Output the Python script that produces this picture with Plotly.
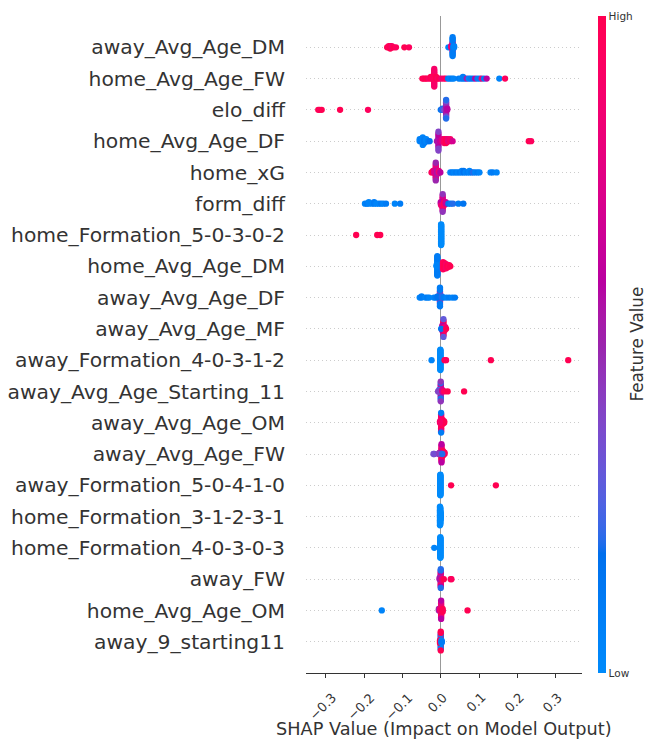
import numpy as np
import plotly.graph_objects as go

# ---------------- data ----------------
# Feature names, top to bottom
FEATURE_NAMES = [
    "away_Avg_Age_DM", "home_Avg_Age_FW", "elo_diff", "home_Avg_Age_DF", "home_xG",
    "form_diff", "home_Formation_5-0-3-0-2", "home_Avg_Age_DM", "away_Avg_Age_DF",
    "away_Avg_Age_MF", "away_Formation_4-0-3-1-2", "away_Avg_Age_Starting_11",
    "away_Avg_Age_OM", "away_Avg_Age_FW", "away_Formation_5-0-4-1-0",
    "home_Formation_3-1-2-3-1", "home_Formation_4-0-3-0-3", "away_FW",
    "home_Avg_Age_OM", "away_9_starting11",
]

# Each entry: (SHAP value, normalised feature value 0=low..1=high, number of samples)
AWAY_AVG_AGE_DM = [
    (-0.140, 1.00, 1), (-0.136, 0.95, 2), (-0.132, 1.00, 3), (-0.128, 0.90, 2),
    (-0.123, 1.00, 1), (-0.117, 0.95, 1), (-0.095, 1.00, 1), (-0.083, 0.95, 1),
    (0.020, 0.05, 1), (0.027, 0.85, 2),
    (0.031, 0.95, 3), (0.031, 0.60, 3), (0.031, 0.85, 2), (0.031, 0.10, 8),
    (0.033, 0.10, 3), (0.035, 0.05, 2),
]
HOME_AVG_AGE_FW = [
    (-0.017, 1.00, 6), (-0.017, 0.90, 6),
    (-0.048, 1.00, 1), (-0.044, 0.95, 1), (-0.040, 1.00, 1), (-0.036, 1.00, 1),
    (-0.031, 0.90, 1), (-0.026, 1.00, 2), (-0.022, 0.95, 2), (-0.012, 1.00, 2),
    (-0.008, 0.90, 1), (-0.004, 1.00, 1), (0.002, 0.85, 1), (0.008, 0.90, 1),
    (0.013, 0.95, 1), (0.019, 0.10, 1), (0.024, 0.05, 1), (0.029, 0.10, 1),
    (0.034, 0.05, 1), (0.047, 0.10, 1), (0.053, 0.05, 1), (0.058, 0.10, 2),
    (0.063, 0.10, 1), (0.068, 0.55, 1), (0.073, 0.05, 1), (0.078, 0.10, 1),
    (0.084, 0.15, 1), (0.090, 0.60, 1), (0.096, 0.10, 1), (0.102, 0.10, 1),
    (0.107, 0.85, 1), (0.113, 0.10, 1), (0.120, 0.60, 1), (0.153, 0.05, 1),
    (0.168, 0.95, 1),
]
ELO_DIFF = [
    (-0.320, 1.00, 1), (-0.316, 0.95, 1), (-0.311, 1.00, 1), (-0.263, 1.00, 1),
    (-0.190, 0.95, 1), (0.000, 0.15, 1), (0.004, 0.20, 2), (0.009, 0.35, 1),
    (0.014, 0.50, 5), (0.014, 0.55, 4), (0.014, 0.45, 3), (0.014, 0.30, 2),
    (0.014, 0.20, 2), (0.017, 0.60, 2),
]
HOME_AVG_AGE_DF = [
    (-0.055, 0.05, 2), (-0.051, 0.10, 2), (-0.047, 0.05, 5), (-0.043, 0.10, 3),
    (-0.038, 0.05, 2), (-0.033, 0.10, 1), (-0.029, 0.15, 1),
    (-0.006, 0.50, 5), (-0.006, 0.60, 3), (-0.006, 0.40, 3),
    (-0.010, 0.55, 1), (-0.002, 0.65, 1), (0.004, 0.75, 2), (0.009, 0.90, 3),
    (0.014, 1.00, 3), (0.019, 0.80, 2), (0.025, 0.90, 2), (0.031, 0.70, 1),
    (0.230, 1.00, 1), (0.236, 0.95, 1),
]
HOME_XG = [
    (-0.013, 1.00, 4), (-0.013, 0.60, 3), (-0.013, 0.80, 3), (-0.013, 0.50, 2),
    (-0.024, 0.95, 1), (-0.020, 1.00, 2), (-0.017, 0.70, 2), (-0.009, 0.55, 3),
    (-0.005, 0.85, 2), (-0.001, 0.60, 1),
    (0.025, 0.05, 1), (0.030, 0.10, 1), (0.035, 0.05, 1), (0.040, 0.10, 1),
    (0.045, 0.05, 1), (0.050, 0.10, 1), (0.055, 0.05, 2), (0.060, 0.15, 2),
    (0.065, 0.05, 1), (0.070, 0.10, 1), (0.075, 0.05, 2), (0.080, 0.10, 1),
    (0.085, 0.20, 1), (0.090, 0.05, 1), (0.096, 0.10, 1), (0.101, 0.05, 1),
    (0.130, 0.05, 1), (0.136, 0.10, 1), (0.146, 0.05, 1),
]
FORM_DIFF = [
    (-0.198, 0.05, 1), (-0.193, 0.10, 1), (-0.188, 0.05, 2), (-0.180, 0.05, 1),
    (-0.174, 0.10, 2), (-0.168, 0.05, 1), (-0.162, 0.05, 1), (-0.156, 0.10, 1),
    (-0.150, 0.05, 1), (-0.143, 0.10, 1), (-0.120, 0.05, 1), (-0.106, 0.10, 1),
    (0.005, 0.55, 4), (0.005, 0.90, 3), (0.005, 0.70, 3), (0.005, 0.45, 2),
    (0.000, 0.60, 2), (0.001, 0.85, 1), (0.009, 0.95, 3), (0.013, 0.65, 2),
    (0.020, 0.15, 1), (0.026, 0.10, 1), (0.032, 0.20, 1), (0.046, 0.10, 1),
    (0.059, 0.15, 1),
]
HOME_FORMATION_5_0_3_0_2 = [
    (-0.221, 1.00, 1), (-0.166, 1.00, 1), (-0.158, 1.00, 1),
    (0.001, 0.00, 34),
]
HOME_AVG_AGE_DM = [
    (-0.009, 0.05, 12), (-0.009, 0.10, 8), (-0.011, 0.05, 2),
    (0.006, 0.95, 8), (0.010, 1.00, 6), (0.014, 0.90, 5), (0.018, 1.00, 3),
    (0.022, 0.95, 2), (0.025, 1.00, 1),
]
AWAY_AVG_AGE_DF = [
    (-0.055, 0.05, 1), (-0.050, 0.10, 2), (-0.040, 0.05, 1), (-0.035, 0.10, 1),
    (-0.030, 0.05, 1),
    (-0.002, 0.55, 4), (-0.002, 0.75, 3), (-0.002, 0.45, 3), (-0.002, 0.10, 6),
    (-0.018, 0.05, 1), (-0.013, 0.10, 1), (-0.008, 0.15, 2), (0.003, 0.20, 2),
    (0.008, 0.10, 1), (0.015, 0.05, 1), (0.022, 0.10, 1), (0.030, 0.05, 1),
    (0.037, 0.10, 1),
]
AWAY_AVG_AGE_MF = [
    (0.007, 0.85, 4), (0.007, 0.55, 3), (0.007, 1.00, 3), (0.007, 0.30, 2),
    (0.004, 0.20, 2), (0.004, 0.60, 2), (0.010, 0.95, 3), (0.012, 0.80, 2),
    (0.001, 0.15, 1), (0.014, 1.00, 1),
]
AWAY_FORMATION_4_0_3_1_2 = [
    (-0.024, 0.05, 1), (-0.001, 0.00, 30), (0.010, 1.00, 1), (0.014, 0.95, 1),
    (0.131, 1.00, 1), (0.333, 1.00, 1),
]
AWAY_AVG_AGE_STARTING_11 = [
    (0.000, 0.50, 4), (0.000, 0.30, 3), (0.000, 0.65, 3), (0.000, 0.20, 3),
    (0.000, 0.45, 2), (-0.004, 0.25, 2), (-0.007, 0.40, 1), (0.004, 0.70, 2),
    (0.009, 0.95, 1), (0.018, 1.00, 1), (0.061, 1.00, 1),
]
AWAY_AVG_AGE_OM = [
    (0.001, 0.95, 5), (0.001, 0.85, 3), (0.001, 1.00, 3), (0.001, 0.75, 2),
    (0.001, 0.10, 2), (0.005, 0.95, 4), (0.009, 1.00, 2), (-0.002, 0.90, 2),
]
AWAY_AVG_AGE_FW = [
    (0.002, 0.95, 5), (0.002, 1.00, 4), (0.002, 0.80, 3), (0.002, 0.60, 2),
    (0.006, 1.00, 4), (0.010, 0.95, 2), (-0.003, 0.55, 2), (-0.006, 0.40, 1),
    (-0.017, 0.45, 1), (-0.019, 0.35, 1), (0.004, 0.20, 1),
]
AWAY_FORMATION_5_0_4_1_0 = [
    (-0.001, 0.00, 34), (0.027, 1.00, 1), (0.144, 1.00, 1),
]
HOME_FORMATION_3_1_2_3_1 = [
    (-0.002, 0.00, 16), (-0.001, 0.00, 14), (0.000, 0.00, 6),
]
HOME_FORMATION_4_0_3_0_3 = [
    (-0.001, 0.00, 34), (-0.017, 0.05, 1),
]
AWAY_FW = [
    (0.000, 0.10, 4), (0.000, 0.50, 4), (0.000, 0.90, 3), (0.000, 0.60, 2),
    (0.000, 0.20, 3), (-0.003, 0.55, 2), (0.003, 0.80, 1), (0.008, 1.00, 1),
    (0.026, 1.00, 1), (0.028, 0.95, 1),
]
HOME_AVG_AGE_OM = [
    (-0.154, 0.05, 1),
    (0.001, 0.95, 5), (0.001, 1.00, 4), (0.001, 0.80, 3), (0.001, 0.60, 2),
    (-0.005, 0.50, 2), (-0.002, 0.85, 2), (0.005, 1.00, 3), (0.070, 1.00, 1),
]
AWAY_9_STARTING11 = [
    (0.000, 0.95, 4), (0.000, 0.10, 4), (0.000, 0.80, 2), (0.000, 0.05, 3),
    (0.000, 1.00, 3), (-0.002, 1.00, 3), (0.002, 0.05, 3), (0.003, 0.10, 1),
]

FEATURE_DATA = [
    AWAY_AVG_AGE_DM, HOME_AVG_AGE_FW, ELO_DIFF, HOME_AVG_AGE_DF, HOME_XG,
    FORM_DIFF, HOME_FORMATION_5_0_3_0_2, HOME_AVG_AGE_DM, AWAY_AVG_AGE_DF,
    AWAY_AVG_AGE_MF, AWAY_FORMATION_4_0_3_1_2, AWAY_AVG_AGE_STARTING_11,
    AWAY_AVG_AGE_OM, AWAY_AVG_AGE_FW, AWAY_FORMATION_5_0_4_1_0,
    HOME_FORMATION_3_1_2_3_1, HOME_FORMATION_4_0_3_0_3, AWAY_FW,
    HOME_AVG_AGE_OM, AWAY_9_STARTING11,
]

X_TICKS = [-0.3, -0.2, -0.1, 0.0, 0.1, 0.2, 0.3]
X_TICK_LABELS = ["\u22120.3", "\u22120.2", "\u22120.1", "0.0", "0.1", "0.2", "0.3"]


# ---------------- SHAP red-blue colormap (LCH interpolation) ----------------
def lab2rgb(L, a, b):
    fy = (L + 16.0) / 116.0
    fx = fy + a / 500.0
    fz = fy - b / 200.0

    def finv(t):
        return t ** 3 if t > 0.206893 else (t - 16.0 / 116.0) / 7.787

    X = 0.95047 * finv(fx)
    Y = 1.0 * finv(fy)
    Z = 1.08883 * finv(fz)
    r = 3.240481340 * X - 1.537151516 * Y - 0.498536326 * Z
    g = -0.969254949 * X + 1.875990000 * Y + 0.041555926 * Z
    bb = 0.055646639 * X - 0.204041338 * Y + 1.057311069 * Z

    def gam(v):
        v = 1.055 * v ** (1 / 2.4) - 0.055 if v > 0.0031308 else 12.92 * v
        return min(max(v, 0.0), 1.0)

    return gam(r), gam(g), gam(bb)


def lch2rgb(l, c, h):
    return lab2rgb(l, c * np.cos(h), c * np.sin(h))


blue_lch = [54.0, 70.0, 4.6588]
red_lch = [54.0, 90.0, 0.35470565 + 2 * np.pi]
l_mid = 40.0
nsteps = 100
l_vals = list(np.linspace(blue_lch[0], l_mid, nsteps // 2)) + list(np.linspace(l_mid, red_lch[0], nsteps // 2))
c_vals = np.linspace(blue_lch[1], red_lch[1], nsteps)
h_vals = np.linspace(blue_lch[2], red_lch[2], nsteps)
colorscale = []
for i in range(nsteps):
    r, g, b = lch2rgb(l_vals[i], c_vals[i], h_vals[i])
    colorscale.append([i / (nsteps - 1), "rgb(%d,%d,%d)" % (round(r * 255), round(g * 255), round(b * 255))])


# ---------------- beeswarm layout (SHAP algorithm) ----------------
def swarm_offsets(shaps, row_height=0.4, nbins=100):
    N = len(shaps)
    quant = np.round(nbins * (shaps - np.min(shaps)) / (np.max(shaps) - np.min(shaps) + 1e-8))
    inds = np.argsort(quant, kind="stable")
    layer = 0
    last_bin = -1
    ys = np.zeros(N)
    for ind in inds:
        if quant[ind] != last_bin:
            layer = 0
        ys[ind] = np.ceil(layer / 2) * ((layer % 2) * 2 - 1)
        layer += 1
        last_bin = quant[ind]
    ys *= 0.9 * (row_height / np.max(ys + 1))
    return ys


n_feat = len(FEATURE_NAMES)
all_x, all_y, all_c = [], [], []
for i, groups in enumerate(FEATURE_DATA):
    pos = n_feat - 1 - i
    shaps = np.array([g[0] for g in groups for _ in range(g[2])], dtype=float)
    fvals = np.array([g[1] for g in groups for _ in range(g[2])], dtype=float)
    offs = swarm_offsets(shaps)
    all_x.extend(shaps.tolist())
    all_y.extend((pos + offs).tolist())
    all_c.extend(fvals.tolist())

# ---------------- figure ----------------
W, H = 648, 743
L_M, R_M, T_M, B_M = 306, 66, 16, 70
plot_w = W - L_M - R_M
plot_h = H - T_M - B_M
axis_px = T_M + plot_h

fig = go.Figure()
fig.add_trace(go.Scatter(
    x=all_x, y=all_y, mode="markers",
    marker=dict(
        size=6.3, color=all_c, colorscale=colorscale, cmin=0, cmax=1,
        line=dict(width=0), opacity=1,
        showscale=True,
        colorbar=dict(
            x=(598 - L_M) / plot_w, xanchor="left", xpad=0,
            y=0.5, yanchor="middle", len=1, lenmode="fraction", ypad=0,
            thickness=8, thicknessmode="pixels", outlinewidth=0,
            tickmode="array", tickvals=[0, 1], ticktext=["Low", "High"],
            ticks="", tickfont=dict(family="DejaVu Sans", size=10.5, color="#333333"),
        ),
    ),
    hoverinfo="skip",
    showlegend=False,
))

# rotated x tick labels (matplotlib-style: rotated 45 deg, centred under each tick)
tick_annotations = [
    dict(text=lab, xref="x", yref="paper", x=val, xshift=-3,
         y=-(687 - axis_px) / plot_h, xanchor="center", yanchor="top",
         textangle=-45, showarrow=False, font=dict(size=13, color="#333333"))
    for val, lab in zip(X_TICKS, X_TICK_LABELS)
]

fig.update_layout(
    width=W, height=H,
    margin=dict(l=L_M, r=R_M, t=T_M, b=B_M, autoexpand=False),
    paper_bgcolor="white", plot_bgcolor="white",
    font=dict(family="DejaVu Sans", color="#333333"),
    xaxis=dict(
        range=[-0.352, 0.369], tickvals=X_TICKS, showticklabels=False,
        ticks="outside", ticklen=4, tickwidth=1, tickcolor="#333333",
        showline=True, linecolor="#333333", linewidth=1,
        showgrid=False, zeroline=True, zerolinecolor="#999999", zerolinewidth=1,
        fixedrange=True,
    ),
    yaxis=dict(
        range=[-1, n_feat], tickmode="array", tickvals=list(range(n_feat)),
        ticktext=FEATURE_NAMES[::-1], ticks="", ticklabelstandoff=20,
        tickfont=dict(size=20.3, color="#333333"),
        showline=False, zeroline=False,
        showgrid=True, gridcolor="#cccccc", gridwidth=1, griddash="1px,3px",
        fixedrange=True,
    ),
    annotations=tick_annotations + [
        dict(text="SHAP Value (Impact on Model Output)", xref="paper", yref="paper",
             x=0.5, y=-(729 - axis_px) / plot_h, xanchor="center", yanchor="middle",
             showarrow=False, font=dict(size=17.7, color="#333333")),
        dict(text="Feature Value", xref="paper", yref="paper",
             x=(636 - L_M) / plot_w, y=0.5, xanchor="center", yanchor="middle",
             textangle=-90, showarrow=False, font=dict(size=16.8, color="#333333")),
    ],
)

fig.write_html("out.html")
